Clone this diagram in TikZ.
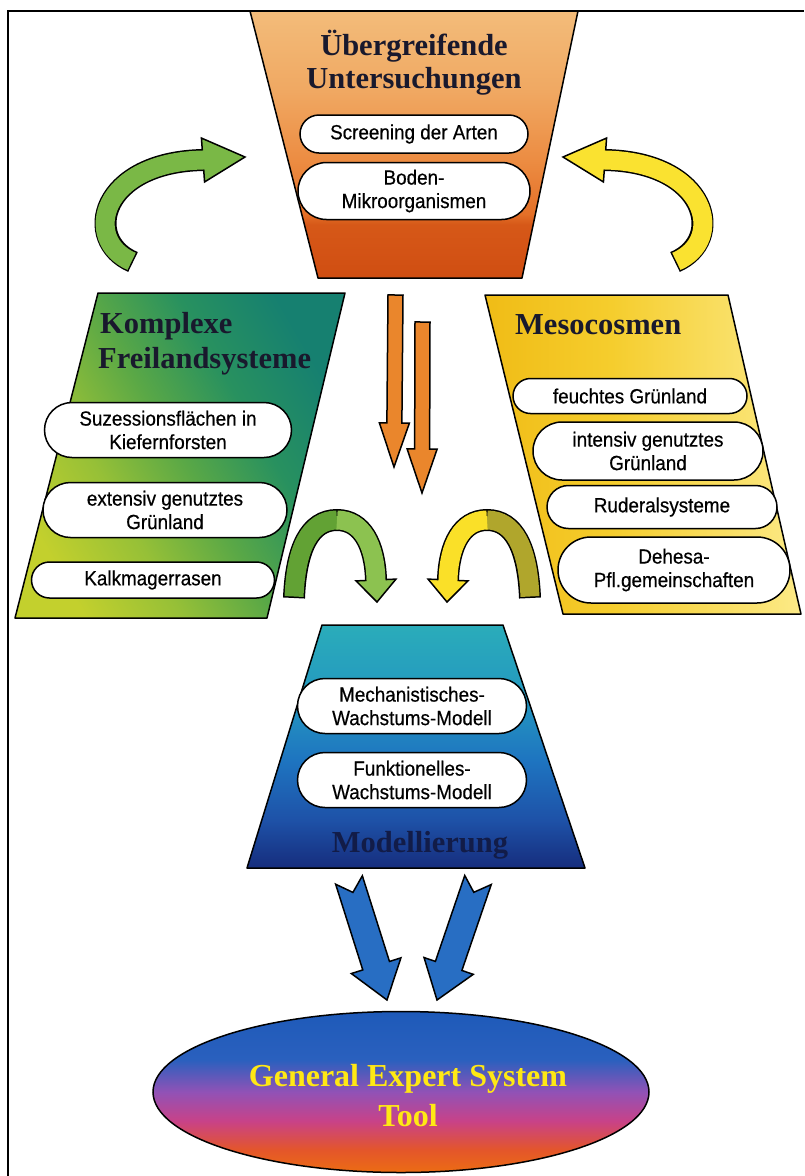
\documentclass[tikz,border=0pt]{standalone}
\usepackage{fontspec}
\setmainfont{Liberation Serif}
\newfontfamily\pillfont[FakeStretch=0.92,FakeBold=0.5]{Liberation Sans}
\usetikzlibrary{calc,shapes.misc,shapes.geometric}

\definecolor{or1}{RGB}{208,78,18}
\definecolor{or2}{RGB}{214,88,24}
\definecolor{or3}{RGB}{228,112,40}
\definecolor{or4}{RGB}{236,140,66}
\definecolor{or5}{RGB}{240,168,98}
\definecolor{or6}{RGB}{243,188,122}
\pgfdeclareverticalshading{orangeshade}{100bp}{color(0bp)=(or1); color(25bp)=(or1); color(35bp)=(or2); color(37bp)=(or3); color(47bp)=(or4); color(60bp)=(or5); color(75bp)=(or6); color(100bp)=(or6)}

\definecolor{bl1}{RGB}{22,45,125}
\definecolor{bl2}{RGB}{30,82,168}
\definecolor{bl3}{RGB}{30,116,192}
\definecolor{bl4}{RGB}{36,152,192}
\definecolor{bl5}{RGB}{42,172,186}
\pgfdeclareverticalshading{blueshade}{100bp}{color(0bp)=(bl1); color(25bp)=(bl1); color(35bp)=(bl2); color(47bp)=(bl3); color(60bp)=(bl4); color(75bp)=(bl5); color(100bp)=(bl5)}

\definecolor{el1}{RGB}{236,108,20}
\definecolor{el2}{RGB}{228,86,42}
\definecolor{el3}{RGB}{200,66,136}
\definecolor{el4}{RGB}{145,82,182}
\definecolor{el5}{RGB}{42,96,190}
\definecolor{el6}{RGB}{30,90,185}
\pgfdeclareverticalshading{ellshade}{100bp}{color(0bp)=(el1); color(25bp)=(el1); color(32bp)=(el2); color(41bp)=(el3); color(50bp)=(el4); color(60bp)=(el5); color(75bp)=(el6); color(100bp)=(el6)}

\definecolor{gr1}{RGB}{195,208,45}
\definecolor{gr2}{RGB}{150,192,55}
\definecolor{gr3}{RGB}{90,168,70}
\definecolor{gr4}{RGB}{40,145,95}
\definecolor{gr5}{RGB}{22,128,112}
\pgfdeclarehorizontalshading{greenshade}{100bp}{color(0bp)=(gr1); color(25bp)=(gr1); color(38bp)=(gr2); color(50bp)=(gr3); color(62bp)=(gr4); color(75bp)=(gr5); color(100bp)=(gr5)}

\definecolor{ye1}{RGB}{240,188,22}
\definecolor{ye2}{RGB}{245,205,45}
\definecolor{ye3}{RGB}{252,234,135}
\pgfdeclarehorizontalshading{yellowshade}{100bp}{color(0bp)=(ye1); color(25bp)=(ye1); color(45bp)=(ye2); color(75bp)=(ye3); color(100bp)=(ye3)}

\definecolor{hdrcol}{RGB}{25,25,45}
\definecolor{modcol}{RGB}{18,28,72}
\definecolor{goldtext}{RGB}{255,232,20}
\definecolor{orangearrow}{RGB}{234,134,44}
\definecolor{greenarrow}{RGB}{122,184,70}
\definecolor{yellowarrow}{RGB}{250,226,48}
\definecolor{gaone}{RGB}{98,162,52}
\definecolor{gatwo}{RGB}{140,194,80}
\definecolor{yaone}{RGB}{250,224,40}
\definecolor{yatwo}{RGB}{176,166,44}
\definecolor{bluearrow}{RGB}{40,110,195}

\newcommand{\blockarrow}[7]{%
  \coordinate (bap) at ($(#3)!#6!(#2)$);
  \coordinate (ban) at ($(#2)!#7!(#3)$);
  \filldraw[arr, fill=#1]
    ($(#2)!#4!90:(#3)$) -- (ban) -- ($(#2)!#4!-90:(#3)$)
    -- ($(bap)!#4!-90:(#3)$) -- ($(bap)!#5!-90:(#3)$) -- (#3)
    -- ($(bap)!#5!90:(#3)$) -- ($(bap)!#4!90:(#3)$) -- cycle;
}

\begin{document}
\begin{tikzpicture}[x=1pt,y=-1pt,
  box/.style={draw=black, line width=1.5pt, line join=round},
  pill/.style={rounded rectangle, draw=black, line width=1.5pt, fill=white, align=center, inner sep=0pt, font=\pillfont\fontsize{20.5}{23.5}\selectfont},
  hdr/.style={font=\bfseries\fontsize{30.5}{33}\selectfont, text=hdrcol, inner sep=0pt},
  arr/.style={draw=black, line width=1.5pt, line join=miter}
]
\useasboundingbox (0,0) rectangle (804,1176);
\fill[white] (0,0) rectangle (804,1176);
\draw[line width=1.2pt] (8,1176) -- (8,11) -- (804,11);

% ---------- top trapezoid ----------
\coordinate (t1) at (250,11);
\coordinate (t2) at (578,11);
\coordinate (t3) at (522,278);
\coordinate (t4) at (318,278);
\shade[shading=orangeshade] (t1) -- (t2) -- (t3) -- (t4) -- cycle;
\draw[box] (t1) -- (t2) -- (t3) -- (t4) -- cycle;
\node[hdr, anchor=base] (ueb1) at (414,55) {Übergreifende};
\node[hdr, anchor=base] (ueb2) at (414,88) {Untersuchungen};
\node[pill, minimum width=228pt, minimum height=38pt] (screening) at (414,134) {Screening der Arten};
\node[pill, minimum width=232pt, minimum height=57pt] (boden) at (414,191) {Boden-\\Mikroorganismen};

% ---------- left parallelogram ----------
\coordinate (l1) at (98,293);
\coordinate (l2) at (345,293);
\coordinate (l3) at (267,618);
\coordinate (l4) at (15,618);
\shade[shading=greenshade, shading angle=30] (l1) -- (l2) -- (l3) -- (l4) -- cycle;
\draw[box] (l1) -- (l2) -- (l3) -- (l4) -- cycle;
\node[hdr, anchor=base west] (kompl1) at (100,333) {Komplexe};
\node[hdr, anchor=base west] (kompl2) at (98,368) {Freilandsysteme};
\node[pill, minimum width=247pt, minimum height=55pt] (suz) at (168,430) {Suzessionsflächen in\\Kiefernforsten};
\node[pill, minimum width=244pt, minimum height=55pt] (ext) at (165,510) {extensiv genutztes\\Grünland};
\node[pill, minimum width=243pt, minimum height=36pt] (kalk) at (153,580) {Kalkmagerrasen};

% ---------- right parallelogram ----------
\coordinate (r1) at (485,295);
\coordinate (r2) at (728,295);
\coordinate (r3) at (801,614);
\coordinate (r4) at (563,614);
\shade[shading=yellowshade] (r1) -- (r2) -- (r3) -- (r4) -- cycle;
\draw[box] (r1) -- (r2) -- (r3) -- (r4) -- cycle;
\node[hdr, anchor=base west] (meso) at (515,334) {Mesocosmen};
\node[pill, minimum width=234pt, minimum height=35pt] (feucht) at (630,396) {feuchtes Grünland};
\node[pill, minimum width=230pt, minimum height=58pt] (intensiv) at (648,451) {intensiv genutztes\\Grünland};
\node[pill, minimum width=230pt, minimum height=43pt] (ruderal) at (662,507) {Ruderalsysteme};
\node[pill, minimum width=232pt, minimum height=66pt] (dehesa) at (674,570) {Dehesa-\\Pfl.gemeinschaften};

% ---------- blue trapezoid ----------
\coordinate (m1) at (322,625);
\coordinate (m2) at (503,625);
\coordinate (m3) at (585,868);
\coordinate (m4) at (247,868);
\shade[shading=blueshade] (m1) -- (m2) -- (m3) -- (m4) -- cycle;
\draw[box] (m1) -- (m2) -- (m3) -- (m4) -- cycle;
\node[pill, minimum width=229pt, minimum height=55pt] (mech) at (412,706) {Mechanistisches-\\Wachstums-Modell};
\node[pill, minimum width=229pt, minimum height=55pt] (funk) at (412,780) {Funktionelles-\\Wachstums-Modell};
\node[hdr, anchor=base, text=modcol] (modell) at (420,852) {Modellierung};

% ---------- ellipse ----------
\node[ellipse, draw=black, line width=1.5pt, shade, shading=ellshade, minimum width=496pt, minimum height=161pt, inner sep=0pt] (expert) at (401,1092) {};
\node[font=\bfseries\fontsize{32}{40}\selectfont, text=goldtext, align=center, inner sep=0pt] (expertlabel) at (408,1096) {General Expert System\\Tool};

% ---------- orange straight arrows ----------
\coordinate (o1A) at (395.5,295);
\coordinate (o1T) at (394,467);
\coordinate (o2A) at (422.5,322);
\coordinate (o2T) at (422,493);
\blockarrow{orangearrow}{o1A}{o1T}{7.5pt}{15pt}{44pt}{0pt}
\blockarrow{orangearrow}{o2A}{o2T}{7.5pt}{15pt}{44pt}{0pt}

% ---------- blue arrows ----------
\coordinate (b1A) at (349,880);
\coordinate (b1T) at (387,1000);
\coordinate (b2A) at (478,880);
\coordinate (b2T) at (437,1000);
\blockarrow{bluearrow}{b1A}{b1T}{14pt}{26pt}{36pt}{13pt}
\blockarrow{bluearrow}{b2A}{b2T}{14pt}{26pt}{36pt}{13pt}

% ---------- top green curved arrow ----------
\coordinate (gA) at (133,262);
\coordinate (gB) at (203,160);
\coordinate (gT) at (245,157);
\draw[line width=22pt] (gA) .. controls (82,240) and (100,162) .. (gB);
\filldraw[arr, fill=greenarrow] ($(gB)!22pt!90:(gT)$) -- (gT) -- ($(gB)!22pt!-90:(gT)$) -- cycle;
\draw[line width=19pt, greenarrow, shorten <=1.5pt] (gA) .. controls (82,240) and (100,162) .. (gB) -- ($(gB)!3pt!(gT)$);

% ---------- top yellow curved arrow ----------
\coordinate (yA) at (675,262);
\coordinate (yB) at (605,160);
\coordinate (yT) at (563,157);
\draw[line width=22pt] (yA) .. controls (726,240) and (708,162) .. (yB);
\filldraw[arr, fill=yellowarrow] ($(yB)!22pt!90:(yT)$) -- (yT) -- ($(yB)!22pt!-90:(yT)$) -- cycle;
\draw[line width=19pt, yellowarrow, shorten <=1.5pt] (yA) .. controls (726,240) and (708,162) .. (yB) -- ($(yB)!3pt!(yT)$);

% ---------- green arch ----------
\coordinate (gaA) at (294,598);
\coordinate (gaM) at (337,520);
\coordinate (gaB) at (376,580);
\coordinate (gaT) at (377,602);
\draw[line width=22pt] (gaA) .. controls (296,548) and (310,520) .. (gaM) .. controls (362,520) and (375,545) .. (gaB);
\filldraw[arr, fill=gatwo] ($(gaB)!20pt!90:(gaT)$) -- (gaT) -- ($(gaB)!20pt!-90:(gaT)$) -- cycle;
\draw[line width=19pt, gaone, shorten <=1.5pt] (gaA) .. controls (296,548) and (310,520) .. (gaM);
\draw[line width=19pt, gatwo] (gaM) .. controls (362,520) and (375,545) .. (gaB) -- ($(gaB)!3pt!(gaT)$);

% ---------- yellow arch ----------
\coordinate (yaA) at (530,598);
\coordinate (yaM) at (487,520);
\coordinate (yaB) at (448,580);
\coordinate (yaT) at (447,602);
\draw[line width=22pt] (yaA) .. controls (528,548) and (514,520) .. (yaM) .. controls (462,520) and (449,545) .. (yaB);
\filldraw[arr, fill=yaone] ($(yaB)!20pt!90:(yaT)$) -- (yaT) -- ($(yaB)!20pt!-90:(yaT)$) -- cycle;
\draw[line width=19pt, yatwo, shorten <=1.5pt] (yaA) .. controls (528,548) and (514,520) .. (yaM);
\draw[line width=19pt, yaone] (yaM) .. controls (462,520) and (449,545) .. (yaB) -- ($(yaB)!3pt!(yaT)$);

\end{tikzpicture}
\end{document}
